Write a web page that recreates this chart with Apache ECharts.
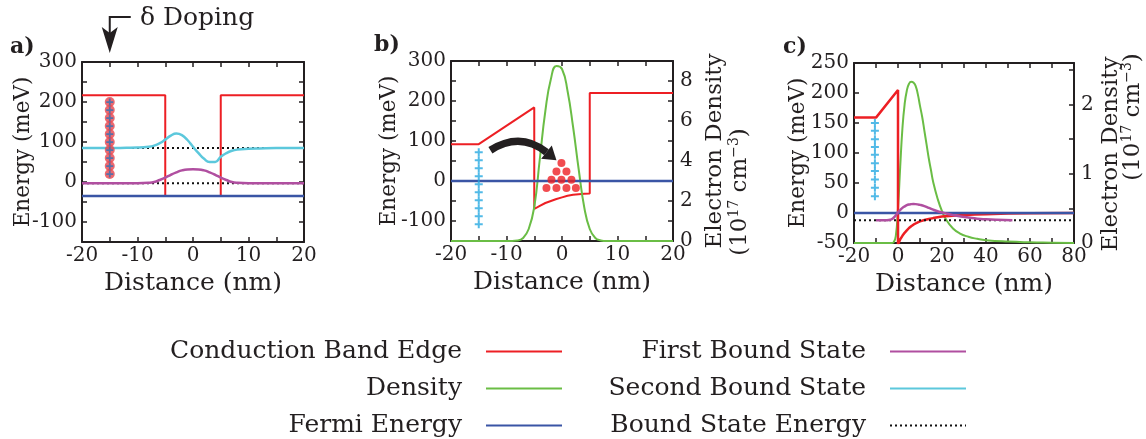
<!DOCTYPE html>
<html>
<head>
<meta charset="utf-8">
<script src="https://cdn.jsdelivr.net/npm/echarts@6/dist/echarts.min.js"></script>
<style>
  html, body { margin: 0; padding: 0; background: #fff; }
  #chart { width: 1146px; height: 439px; }
</style>
</head>
<body>
<div id="chart"></div>
<script>
// ---------- panel a: square well with a delta-doped layer ----------
const aBandX   = [-20, -5, -5, 5, 5, 20];
const aBandE   = [217, 217, -35, -35, 217, 217];
const aFermiX  = [-20, 20];
const aFermiE  = [-35, -35];
const aLevels  = [85, -3];                       // bound state energies (meV)
const aFirstX  = [-20, -10, -8, -7, -6, -5, -4, -3, -2, -1, 0, 1, 2, 3, 4, 5, 6, 7, 8, 10, 20];
const aFirstE  = [-3, -3, -2, 0, 5, 11, 18, 24, 29, 31.5, 32, 31.5, 29, 24, 18, 11, 5, 0, -2, -3, -3];
const aSecondX = [-20, -15, -12, -10, -8, -7, -6, -5, -4, -3, -2, -1, 0, 1, 2, 3, 4, 5, 6, 7, 8, 10, 12, 15, 20];
const aSecondE = [85, 85, 85.5, 86, 88, 91, 97, 106, 116, 121, 117, 105, 88, 72, 58, 50, 50, 63, 72, 78, 81, 83, 84, 85, 85];
const aDopantX = -15;
const aDopantE = [20, 40, 60, 80, 100, 120, 140, 160, 180, 200];

// ---------- panel b: charge transferred into the well ----------
const bBandX   = [-20, -15, -5, -5, -4, -3, -2, -1, 0, 1, 2, 3, 4, 5, 5, 20];
const bBandE   = [92, 92, 184, -70, -62, -55, -50, -45, -41, -37, -34.5, -33, -32, -31.5, 220, 220];
const bFermiX  = [-20, 20];
const bFermiE  = [0, 0];
const bDensX   = [-20, -10, -9, -8, -7, -6, -5, -4, -3, -2, -1, 0, 1, 2, 3, 4, 5, 6, 7, 8, 10, 20];
const bDens    = [0, 0, 0, 0.02, 0.15, 0.6, 1.7, 4.1, 6.5, 8.1, 8.75, 8.6, 7.5, 5.7, 3.6, 1.7, 0.6, 0.15, 0.03, 0, 0, 0];
const bIonX    = -15;
const bIonE    = [72, 52, 32, 12, -8, -28, -48, -68, -88, -108];
const bElecX   = [-0.1, -1.0, 0.8, -1.9, -0.1, 1.7, -2.8, -1.0, 0.8, 2.5];
const bElecE   = [45, 24, 24, 3, 3, 3, -17.5, -17.5, -17.5, -17.5];

// ---------- panel c: single heterojunction ----------
const cBandX   = [-20, -10, 0, 0, 1, 2, 3, 4, 5, 6, 7, 8, 9, 10, 12, 14, 16, 18, 20, 25, 30, 35, 40, 50, 60, 80];
const cBandE   = [159, 159, 205, -52, -44, -38, -33, -29, -25, -22, -19.5, -17.5, -15.5, -14, -11.7, -10, -8.5, -7.2, -6, -4.5, -3.5, -2.7, -2, -1, -0.5, 0];
const cFermiX  = [-20, 80];
const cFermiE  = [0, 0];
const cLevel   = -12;
const cFirstX  = [-10, -5, -4, -3, -2, -1, 0, 1, 2, 3, 4, 5, 6, 7, 8, 10, 12, 14, 16, 18, 20, 22, 25, 28, 32, 36, 40, 45, 52];
const cFirstE  = [-12, -12, -11.5, -10.5, -8, -4, 1, 5, 8.5, 11, 13, 14.2, 14.8, 15, 14.8, 13.5, 11.5, 8.5, 5.5, 3, 1, -1, -3.5, -5.5, -7.5, -9.5, -10.5, -11.3, -12];
const cDensX   = [-20, -3, -2, -1, 0, 1, 2, 3, 4, 5, 6, 7, 8, 9, 10, 11, 12, 13, 14, 15, 16, 18, 20, 22, 25, 28, 32, 36, 40, 50, 60, 70, 80];
const cDens    = [0, 0, 0.01, 0.1, 0.5, 1.1, 1.65, 2.0, 2.2, 2.3, 2.33, 2.32, 2.27, 2.15, 1.98, 1.82, 1.62, 1.42, 1.22, 1.05, 0.88, 0.64, 0.46, 0.33, 0.21, 0.14, 0.09, 0.06, 0.04, 0.02, 0.01, 0.005, 0];
const cIonX    = -10.5;
const cIonE    = [150, 137, 123, 110, 97, 83, 70, 56, 42, 28];

// ---------- styling ----------
const FONT = 'DejaVu Serif';
const INK = '#231f20';
const RED = '#ed1f24', GREEN = '#6abd45', BLUE = '#3a55a5';
const MAGENTA = '#b04fa0', CYAN = '#5cc8dc', ION = '#27a9e1', DOPE = '#2f72b8';
const PLUS = 'path://M3,0h2v3h3v2h-3v3h-2v-3h-3v-2h3z';

const zip = (xs, ys) => xs.map((x, i) => [x, ys[i]]);
const level = (xs, e) => [[xs[0], e], [xs[1], e]];
const stepLabel = step => v => (Math.abs(Math.round(v / step) * step - v) < 1e-9 ? String(+v.toFixed(3)) : '');

const lineAx = { show: true, onZero: false, lineStyle: { color: INK, width: 2 } };
const tickAx = { show: true, inside: true, length: 5, lineStyle: { color: INK, width: 1.5 } };
const labelFont = { color: INK, fontFamily: FONT, fontSize: 20 };

function xPair(grid, min, max, interval, labelStep) {
  return [
    { type: 'value', gridIndex: grid, position: 'bottom', min, max, interval,
      axisLine: lineAx, axisTick: tickAx, splitLine: { show: false },
      axisLabel: Object.assign({ formatter: stepLabel(labelStep), margin: 4 }, labelFont),
      name: 'Distance (nm)', nameLocation: 'middle', nameGap: 29, nameMoveOverlap: false,
      nameTextStyle: { color: INK, fontFamily: FONT, fontSize: 25 } },
    { type: 'value', gridIndex: grid, position: 'top', min, max, interval,
      axisLine: lineAx, axisTick: tickAx, splitLine: { show: false }, axisLabel: { show: false } }
  ];
}
function yLeft(grid, min, max, interval, labelStep, gap) {
  return { type: 'value', gridIndex: grid, position: 'left', min, max, interval,
    axisLine: lineAx, axisTick: tickAx, splitLine: { show: false },
    axisLabel: Object.assign({ formatter: stepLabel(labelStep), margin: 5 }, labelFont),
    name: 'Energy (meV)', nameLocation: 'middle', nameRotate: 90, nameGap: gap, nameMoveOverlap: false,
    nameTextStyle: { color: INK, fontFamily: FONT, fontSize: 21.5 } };
}
function yRight(grid, min, max, interval, labelStep, showLabels) {
  return { type: 'value', gridIndex: grid, position: 'right', min, max, interval,
    axisLine: lineAx, axisTick: tickAx, splitLine: { show: false },
    axisLabel: Object.assign({ show: showLabels, formatter: stepLabel(labelStep), margin: 7 }, labelFont) };
}

function line(name, ax, yAx, data, color, width, extra) {
  return Object.assign({ type: 'line', name, xAxisIndex: ax, yAxisIndex: yAx, data,
    symbol: 'none', lineStyle: { color, width }, itemStyle: { color },
    animation: false, silent: true }, extra || {});
}
function dots(name, ax, data, symbol, size, color, z) {
  return { type: 'scatter', name, xAxisIndex: ax, yAxisIndex: ax, data, symbol, symbolSize: size,
    itemStyle: { color }, animation: false, silent: true, z: z || 4 };
}
const dotted = { type: [2, 3] };

const series = [
  // a
  line('Conduction Band Edge', 0, 0, zip(aBandX, aBandE), RED, 2),
  line('Fermi Energy', 0, 0, zip(aFermiX, aFermiE), BLUE, 2.5),
  line('Bound State Energy', 0, 0, level(aFermiX, aLevels[0]), '#111', 2, { lineStyle: Object.assign({ color: '#111', width: 2 }, dotted) }),
  line('Bound State Energy', 0, 0, level(aFermiX, aLevels[1]), '#111', 2, { lineStyle: Object.assign({ color: '#111', width: 2 }, dotted) }),
  line('Second Bound State', 0, 0, zip(aSecondX, aSecondE), CYAN, 2.5, { smooth: true }),
  line('First Bound State', 0, 0, zip(aFirstX, aFirstE), MAGENTA, 2.5, { smooth: true }),
  dots('dopant sites', 0, aDopantE.map(e => [aDopantX, e]), 'circle', 10, '#e8434b', 4),
  dots('dopant charge', 0, aDopantE.map(e => [aDopantX, e]), PLUS, 7, DOPE, 5),
  // b
  line('Conduction Band Edge', 2, 2, zip(bBandX, bBandE), RED, 2),
  line('Density', 2, 3, zip(bDensX, bDens), GREEN, 2, { smooth: true }),
  line('Fermi Energy', 2, 2, zip(bFermiX, bFermiE), BLUE, 2.5),
  dots('ionised donors', 2, bIonE.map(e => [bIonX, e]), PLUS, 8, ION, 4),
  dots('electrons', 2, zip(bElecX, bElecE), 'circle', 8, RED, 4),
  // c
  line('Density', 4, 5, zip(cDensX, cDens), GREEN, 2, { smooth: true }),
  line('Conduction Band Edge', 4, 4, zip(cBandX, cBandE), RED, 2.5),
  line('Fermi Energy', 4, 4, zip(cFermiX, cFermiE), BLUE, 2.5),
  line('Bound State Energy', 4, 4, level(cFermiX, cLevel), '#111', 2, { lineStyle: Object.assign({ color: '#111', width: 2 }, dotted) }),
  line('First Bound State', 4, 4, zip(cFirstX, cFirstE), MAGENTA, 2.5, { smooth: true }),
  dots('ionised donors', 4, cIonE.map(e => [cIonX, e]), PLUS, 8, ION, 4)
];

const legendBase = {
  orient: 'vertical', align: 'right', top: 339, padding: 0,
  itemWidth: 76, itemHeight: 12, itemGap: 12, selectedMode: false,
  itemStyle: { opacity: 0 },
  textStyle: { color: INK, fontFamily: FONT, fontSize: 25, padding: [0, 19, 0, 0] }
};

const chart = echarts.init(document.getElementById('chart'));
chart.setOption({
  backgroundColor: '#fff',
  animation: false,
  grid: [
    { left: 82, top: 62, width: 222, height: 180 },
    { left: 451, top: 61, width: 222, height: 180 },
    { left: 854, top: 63, width: 220, height: 180 }
  ],
  xAxis: [].concat(xPair(0, -20, 20, 5, 10), xPair(1, -20, 20, 5, 10), xPair(2, -20, 80, 10, 20)),
  yAxis: [
    yLeft(0, -150, 300, 50, 100, 48), yRight(0, -150, 300, 50, 100, false),
    yLeft(1, -150, 300, 50, 100, 51), yRight(1, 0, 9, 1, 2, true),
    yLeft(2, -50, 250, 50, 50, 45),   yRight(2, 0, 2.6, 0.5, 1, true)
  ],
  legend: [
    Object.assign({ right: 583, data: ['Conduction Band Edge', 'Density', 'Fermi Energy'] }, legendBase),
    Object.assign({ right: 179, data: ['First Bound State', 'Second Bound State', 'Bound State Energy'] }, legendBase)
  ],
  series
});

// ---------- annotations placed through the axes ----------
const pa = p => chart.convertToPixel({ xAxisIndex: 0, yAxisIndex: 0 }, p);
const pb = p => chart.convertToPixel({ xAxisIndex: 2, yAxisIndex: 2 }, p);

// delta-doping marker above panel a, pointing at the doped plane
const dx = pa([aDopantX, 0])[0];
// charge-transfer arrow in panel b (data coordinates)
const arrTail = pb([-12.9, 77]), arrCtrl = pb([-7.5, 124]), arrEnd = pb([-2.8, 72]), arrTip = pb([-1.0, 52]);
const ux = arrTip[0] - arrEnd[0], uy = arrTip[1] - arrEnd[1], ul = Math.hypot(ux, uy);
const nx = -uy / ul * 8.5, ny = ux / ul * 8.5;

// rotated axis title for the density axes, one text element per line
const rot = (text, x, y, rich) => ({
  type: 'text', x, y, rotation: Math.PI / 2,
  style: { text, align: 'center', verticalAlign: 'middle', fill: INK, rich }
});
const titleRich = {
  t: { fontFamily: FONT, fontSize: 23, lineHeight: 26, fill: INK },
  s: { fontFamily: FONT, fontSize: 14, lineHeight: 26, verticalAlign: 'top', fill: INK }
};
const L1 = '{t|Electron Density}';
const L2 = '{t|(10}{s|17}{t| cm}{s|\u22123}{t|)}';

chart.setOption({
  graphic: [
    { type: 'text', x: 10, y: 47, style: { text: 'a)', font: 'bold 22px "DejaVu Serif"', fill: INK, verticalAlign: 'middle' } },
    { type: 'text', x: 374, y: 45, style: { text: 'b)', font: 'bold 22px "DejaVu Serif"', fill: INK, verticalAlign: 'middle' } },
    { type: 'text', x: 783, y: 47, style: { text: 'c)', font: 'bold 22px "DejaVu Serif"', fill: INK, verticalAlign: 'middle' } },
    { type: 'polyline', shape: { points: [[dx + 21, 17], [dx, 17], [dx, 34]] }, style: { stroke: INK, lineWidth: 2, fill: null } },
    { type: 'polygon', shape: { points: [[dx - 8, 27], [dx, 33], [dx + 8, 27], [dx, 53]] }, style: { fill: INK } },
    { type: 'text', x: 140, y: 18, style: { text: '\u03b4 Doping', font: '25px "DejaVu Serif"', fill: INK, verticalAlign: 'middle' } },
    { type: 'bezierCurve', shape: { x1: arrTail[0], y1: arrTail[1], cpx1: arrCtrl[0], cpy1: arrCtrl[1], x2: arrEnd[0], y2: arrEnd[1] },
      style: { stroke: INK, lineWidth: 7.5, fill: null }, z: 10 },
    { type: 'polygon', shape: { points: [[arrEnd[0] + nx, arrEnd[1] + ny], [arrTip[0], arrTip[1]], [arrEnd[0] - nx, arrEnd[1] - ny]] },
      style: { fill: INK }, z: 10 },
    rot(L1, 715, 151, titleRich),
    rot(L2, 740, 192, titleRich),
    rot(L1, 1111, 154, titleRich),
    rot(L2, 1133, 117, titleRich)
  ]
});
</script>
</body>
</html>
